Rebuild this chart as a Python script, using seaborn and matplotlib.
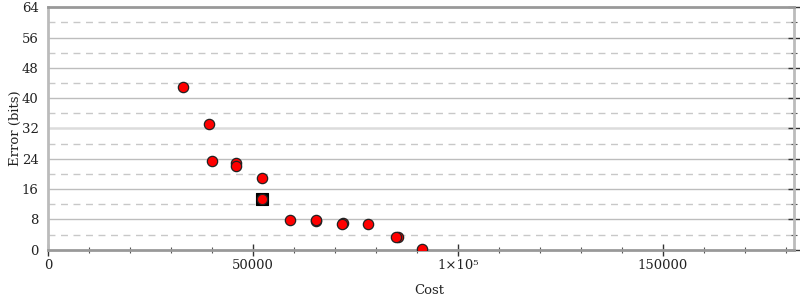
import matplotlib
matplotlib.use("Agg")
import matplotlib.pyplot as plt
import seaborn as sns
import pandas as pd
from matplotlib.ticker import MultipleLocator, FixedLocator, FixedFormatter

sns.set_style("white")
plt.rcParams['font.family'] = ['DejaVu Serif']

# data (cost, error bits)
cost = [32860, 39220, 39950, 45820, 45820, 52180, 52250, 59100, 65300, 65280,
        71810, 71750, 78090, 85380, 84940, 91120]
error = [43.0, 33.1, 23.5, 22.9, 22.2, 18.85, 13.4, 7.84, 7.45, 7.84,
         7.05, 6.8, 6.7, 3.22, 3.27, 0.18]
sel_cost = [52250]
sel_error = [13.4]

df = pd.DataFrame({"Cost": cost, "Error": error})
sel = pd.DataFrame({"Cost": sel_cost, "Error": sel_error})

fig = plt.figure(figsize=(8, 3), dpi=100)
ax = fig.add_axes([0.0604, 0.1677, 0.9321, 0.8080])

# grid
for v in range(8, 64, 8):
    ax.axhline(v, color="#dcdcdc" if v == 32 else "#bdbdbd", lw=1.8 if v == 32 else 1.0, zorder=0)
for v in range(4, 64, 8):
    ax.axhline(v, color="#c8c8c8", lw=1.0, ls=(0, (5, 4)), zorder=0)

sns.scatterplot(data=sel, x="Cost", y="Error", marker="s", s=75, color="black",
                edgecolor="black", linewidth=0.8, ax=ax, zorder=3)
sns.scatterplot(data=df, x="Cost", y="Error", marker="o", s=55, color="#ff0000",
                edgecolor="#222222", linewidth=0.9, ax=ax, zorder=4)

ax.set_xlim(0, 182000)
ax.set_ylim(0, 64)
ax.yaxis.set_major_locator(MultipleLocator(8))
ax.yaxis.set_minor_locator(MultipleLocator(4))
ax.xaxis.set_major_locator(FixedLocator([0, 50000, 100000, 150000]))
ax.xaxis.set_major_formatter(FixedFormatter(["0", "50000", "1×10⁵", "150000"]))
ax.xaxis.set_minor_locator(MultipleLocator(10000))

ax.tick_params(axis="both", which="major", direction="inout", length=8, width=1.0,
               color="#333333", labelsize=9.5, labelcolor="#222222", pad=3)
ax.tick_params(axis="both", which="minor", direction="inout", length=5, width=0.8,
               color="#555555")
ax.tick_params(axis="y", which="both", right=True)
ax.tick_params(axis="x", which="both", bottom=True, top=False)

for side in ["left", "right"]:
    ax.spines[side].set_color("#bbbbbb")
    ax.spines[side].set_linewidth(2.0)
for side in ["top", "bottom"]:
    ax.spines[side].set_color("#999999")
    ax.spines[side].set_linewidth(2.0)
    ax.spines[side].set_visible(True)

ax.set_xlabel("Cost", fontsize=9.5, color="#222222")
ax.set_ylabel("Error (bits)", fontsize=9.5, color="#222222")
ax.xaxis.set_label_coords(0.511, -0.17)
ax.yaxis.set_label_coords(-0.044, 0.5)
ax.xaxis.label.set_va("center")
ax.yaxis.label.set_va("center")

fig.savefig("out.png", dpi=100)
